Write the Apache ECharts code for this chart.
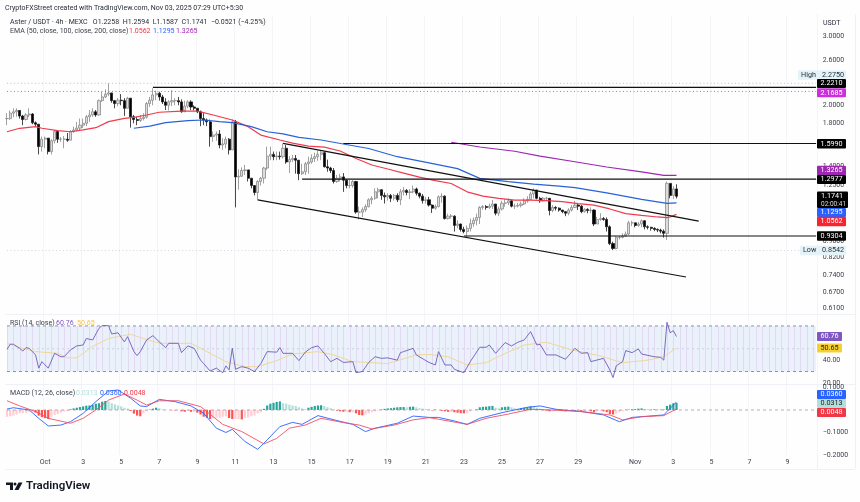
<!DOCTYPE html>
<html><head><meta charset="utf-8">
<script src="https://cdn.jsdelivr.net/npm/echarts@6/dist/echarts.min.js"></script>
<style>html,body{margin:0;padding:0;background:#fff}#c{width:860px;height:502px}</style></head>
<body><div id="c"></div>
<script>
// ---- values ----
const firstOpen = 1.85;
const closes = [1.85,1.91,1.925,1.94,1.878,1.84,1.89,1.90,1.805,1.79,1.57,1.64,1.65,1.525,1.625,1.715,1.64,1.64,1.64,1.63,
1.715,1.73,1.75,1.78,1.80,1.87,1.89,1.925,1.89,2.055,2.10,2.135,2.15,2.055,2.02,2.06,2.055,1.965,2.085,1.87,
1.84,1.83,1.85,1.865,2.02,2.06,2.125,2.145,2.10,2.04,2.00,2.04,2.055,2.055,2.04,1.925,1.99,2.04,1.98,1.965,
1.925,1.85,1.835,1.815,1.665,1.68,1.69,1.585,1.595,1.64,1.54,1.815,1.315,1.32,1.365,1.37,1.305,1.25,1.20,1.28,
1.305,1.385,1.485,1.50,1.48,1.485,1.48,1.555,1.435,1.455,1.465,1.45,1.34,1.355,1.42,1.435,1.465,1.48,1.50,1.515,
1.395,1.385,1.365,1.28,1.305,1.315,1.29,1.25,1.25,1.28,1.07,1.07,1.085,1.105,1.15,1.16,1.205,1.22,1.18,1.17,
1.18,1.16,1.18,1.15,1.205,1.215,1.20,1.205,1.225,1.195,1.175,1.145,1.15,1.115,1.095,1.105,1.17,1.175,1.03,1.045,
1.045,0.99,0.998,0.967,0.955,0.973,1.00,1.02,1.037,1.10,1.105,1.10,1.108,1.122,1.063,1.09,1.127,1.13,1.143,1.108,
1.108,1.113,1.122,1.143,1.153,1.19,1.218,1.16,1.143,1.16,1.16,1.08,1.10,1.095,1.083,1.073,1.063,1.083,1.10,1.115,
1.108,1.073,1.087,1.08,1.083,0.998,1.025,1.03,1.025,0.982,0.89,0.865,0.923,0.923,0.93,0.941,1.005,1.005,0.99,0.998,
1.017,0.982,0.979,0.973,0.967,0.963,0.957,0.945,1.266,1.18,1.2258,1.1741];
const highs = [1.91,1.94,1.965,1.965,1.945,1.89,1.91,1.965,1.91,1.82,1.79,1.665,1.665,1.64,1.64,1.73,1.73,1.66,1.67,1.70,
1.73,1.765,1.815,1.85,1.85,1.89,1.945,1.965,1.945,2.07,2.165,2.195,2.275,2.135,2.06,2.085,2.135,2.085,2.10,2.085,
1.89,1.87,1.89,1.91,2.04,2.10,2.21,2.18,2.165,2.125,2.085,2.06,2.185,2.085,2.10,2.07,2.055,2.06,2.06,2.00,
1.965,1.94,1.91,1.85,1.84,1.715,1.715,1.73,1.65,1.665,1.65,1.84,1.835,1.375,1.39,1.41,1.37,1.305,1.25,1.29,
1.315,1.395,1.57,1.57,1.525,1.525,1.525,1.60,1.585,1.485,1.495,1.495,1.42,1.42,1.435,1.48,1.50,1.515,1.53,1.54,
1.525,1.455,1.395,1.385,1.33,1.34,1.345,1.295,1.29,1.29,1.285,1.105,1.10,1.12,1.16,1.175,1.23,1.235,1.205,1.20,
1.195,1.19,1.19,1.195,1.225,1.24,1.225,1.225,1.25,1.235,1.20,1.19,1.17,1.17,1.12,1.12,1.18,1.195,1.18,1.06,
1.058,1.05,1.02,1.00,0.982,0.99,1.03,1.037,1.06,1.108,1.115,1.115,1.125,1.148,1.115,1.105,1.143,1.155,1.16,1.148,
1.125,1.13,1.137,1.16,1.175,1.205,1.23,1.21,1.17,1.17,1.17,1.16,1.115,1.108,1.10,1.083,1.077,1.095,1.115,1.143,
1.122,1.115,1.095,1.095,1.10,1.087,1.04,1.063,1.04,1.037,0.99,0.90,0.93,0.93,0.945,0.955,1.017,1.017,1.005,1.01,
1.025,1.02,0.99,0.982,0.979,0.973,0.971,0.967,1.279,1.266,1.246,1.2594];
const lows = [1.78,1.835,1.865,1.87,1.85,1.78,1.83,1.865,1.79,1.77,1.50,1.525,1.555,1.50,1.50,1.60,1.605,1.615,1.555,1.615,
1.63,1.70,1.715,1.73,1.75,1.77,1.815,1.87,1.87,1.88,2.04,2.085,2.11,2.03,1.965,1.99,2.00,1.88,1.965,1.755,
1.80,1.78,1.815,1.83,1.85,1.98,2.00,2.06,2.055,2.015,1.945,1.94,1.99,2.00,2.00,1.915,1.945,1.965,1.945,1.94,
1.91,1.77,1.78,1.77,1.57,1.615,1.625,1.555,1.54,1.555,1.50,1.54,1.10,1.22,1.315,1.33,1.28,1.23,1.18,1.15,
1.25,1.265,1.37,1.45,1.45,1.45,1.455,1.465,1.42,1.345,1.435,1.34,1.29,1.33,1.33,1.34,1.42,1.435,1.445,1.45,
1.39,1.355,1.345,1.265,1.27,1.28,1.205,1.23,1.23,1.235,1.06,1.025,1.04,1.07,1.10,1.12,1.15,1.16,1.15,1.125,
1.145,1.135,1.145,1.135,1.115,1.18,1.18,1.155,1.195,1.18,1.16,1.125,1.125,1.105,1.065,1.085,1.10,1.13,1.025,1.025,
1.03,0.955,0.973,0.955,0.945,0.926,0.955,0.982,0.99,0.998,1.085,1.085,1.09,1.09,1.05,1.045,1.08,1.105,1.115,1.10,
1.09,1.10,1.10,1.115,1.13,1.148,1.16,1.153,1.13,1.137,1.148,1.05,1.07,1.08,1.073,1.063,1.045,1.05,1.073,1.095,
1.083,1.063,1.067,1.063,1.063,0.986,1.01,1.017,1.017,0.955,0.882,0.857,0.86,0.912,0.917,0.926,0.935,0.986,0.979,0.982,
0.979,0.967,0.967,0.96,0.957,0.952,0.945,0.922,0.909,1.16,1.155,1.1587];

const ema50 = [[0,1.713],[4,1.748],[9,1.765],[11,1.748],[16,1.724],[20,1.713],[24,1.731],[28,1.754],[32,1.817],[37,1.853],[40,1.864],[44,1.889],[48,1.92],[55,1.933],[60,1.933],[65,1.889],[71,1.835],[76,1.765],[80,1.68],[86,1.632],[90,1.603],[95,1.575],[100,1.566],[105,1.53],[110,1.464],[115,1.41],[120,1.377],[125,1.345],[130,1.313],[135,1.287],[140,1.265],[145,1.205],[150,1.175],[155,1.16],[160,1.148],[165,1.148],[170,1.145],[175,1.138],[180,1.125],[185,1.115],[190,1.09],[195,1.061],[200,1.05],[205,1.04],[208,1.036],[209,1.04],[210,1.048],[211,1.0562]];
const ema100 = [[40,1.748],[45,1.771],[50,1.807],[57,1.828],[62,1.835],[67,1.817],[71,1.807],[77,1.765],[82,1.713],[87,1.691],[92,1.658],[99,1.632],[106,1.594],[114,1.553],[123,1.48],[133,1.428],[142,1.38],[149,1.304],[158,1.279],[166,1.261],[174,1.246],[179,1.235],[189,1.197],[200,1.153],[208,1.126],[211,1.1295]];
const ema200 = [[140,1.611],[149,1.567],[160,1.528],[168,1.485],[179,1.437],[189,1.393],[200,1.354],[207,1.327],[211,1.3265]];

const rsiValues = [[0,49.5],[1,54],[2,54],[4,50.4],[5,48],[6,51],[7,50.4],[9,44.6],[10,33],[11,38.7],[13,33],[15,46],[17,43],[18,43],[20,49],[22,52.5],[24,53.3],[25,59],[27,57.7],[29,68],[30,70.3],[32,70.3],[33,63],[35,64],[37,56],[38,60.6],[40,47.5],[41,44],[42,47.5],[44,57.7],[46,61.5],[48,56],[50,51],[51,54.8],[54,54.8],[55,46.6],[57,52.5],[59,50.4],[61,40],[62,37],[64,30.5],[66,33],[68,29],[69,35],[70,31.5],[71,50.4],[72,32],[74,34.3],[76,33],[78,30],[80,37],[82,47.5],[85,47],[86,51],[87,46],[90,46],[92,39.6],[94,47],[96,51],[98,52.5],[100,46],[102,38.7],[104,41.6],[106,38],[109,38.7],[110,29],[112,30],[114,38],[116,43],[118,41.6],[120,42],[123,40],[124,46.6],[125,47.5],[128,50.4],[129,44.6],[133,38],[135,35.8],[136,47.5],[138,35.8],[140,35.8],[141,32],[144,29],[146,38.7],[149,51.3],[151,51.3],[152,53.3],[154,46],[157,55.4],[159,52.5],[161,55.7],[163,57.7],[165,65],[167,53.3],[168,53.9],[170,44.6],[173,44.6],[176,40.8],[179,50.4],[181,46],[183,46.6],[184,38.7],[188,41.6],[190,31.4],[191,24.7],[192,35],[194,38.7],[195,48.4],[197,46.6],[199,49.8],[200,45.4],[204,43],[206,42.5],[207,40],[208,73.2],[209,64],[210,65.9],[211,60.76]];
const rsiMa = [[0,54.8],[4,51],[9,47.5],[16,46],[19,42],[22,42],[27,52],[32,59],[39,62.7],[43,59],[48,54.8],[58,54.8],[63,47.5],[69,38.7],[75,34.3],[79,34.3],[85,39.6],[90,45.4],[98,47.5],[103,44.6],[109,38.7],[114,38],[120,37],[129,44.6],[133,45],[139,43],[145,35.8],[151,37.8],[156,44.6],[163,53.3],[170,55.7],[178,49],[187,43.7],[194,37.8],[202,40],[207,43],[211,50.65]];

const macdLine = [[0,.004],[2,.01],[7,0],[10,-.037],[13,-.071],[17,-.067],[20,-.052],[24,-.015],[28,.037],[32,.084],[35,.089],[39,.052],[42,.018],[44,.015],[48,.047],[53,.037],[58,.018],[62,-.015],[66,-.081],[69,-.10],[71,-.086],[75,-.14],[79,-.175],[82,-.133],[86,-.074],[90,-.055],[93,-.064],[98,-.025],[104,-.047],[109,-.064],[113,-.096],[116,-.081],[123,-.059],[128,-.027],[133,-.033],[136,-.033],[141,-.049],[145,-.064],[149,-.037],[156,-.012],[164,.012],[168,.018],[173,.003],[181,-.007],[188,-.022],[193,-.052],[197,-.033],[207,-.022],[208,-.007],[211,.036]];
const macdSignal = [[0,.041],[4,.018],[9,-.007],[13,-.037],[20,-.059],[24,-.037],[28,0],[32,.044],[37,.071],[41,.044],[44,.022],[48,.041],[54,.041],[61,.015],[65,-.03],[68,-.064],[74,-.096],[81,-.151],[85,-.126],[89,-.081],[94,-.067],[99,-.037],[106,-.056],[111,-.067],[115,-.084],[122,-.067],[128,-.044],[133,-.034],[136,-.041],[142,-.056],[145,-.064],[151,-.037],[158,-.018],[165,.003],[172,0],[181,-.007],[190,-.022],[194,-.044],[200,-.03],[207,-.025],[211,.0048]];
const macdHist = [-.03,-.028,-.025,-.02,-.014,-.014,-.012,-.008,-.006,-.012,-.025,-.032,-.036,-.04,-.03,-.022,-.018,-.012,-.007,-.004,
.003,.007,.01,.013,.016,.019,.02,.023,.028,.03,.037,.04,.038,.03,.025,.02,.016,.01,.006,-.004,
-.016,-.025,-.028,-.015,-.006,.002,.006,.01,.008,.003,.001,0,-.001,-.002,-.001,-.006,-.008,-.005,-.008,-.008,
-.012,-.02,-.03,-.035,-.04,-.036,-.034,-.034,-.03,-.028,-.036,-.04,-.04,-.04,-.042,-.035,-.033,-.028,-.025,-.015,
-.01,.005,.02,.028,.032,.036,.038,.03,.028,.024,.02,.018,.012,.007,.004,.01,.014,.018,.02,.021,
.018,.012,.008,.003,-.003,-.006,-.008,-.008,-.01,-.01,-.015,-.022,-.024,-.02,-.015,-.01,-.006,-.002,.002,.005,
.007,.008,.01,.012,.013,.013,.012,.014,.015,.012,.008,.006,.004,.002,-.002,.002,0,-.004,-.006,-.008,
-.008,-.01,-.012,-.014,-.015,-.012,-.006,-.002,.003,.012,.014,.015,.017,.018,.01,.008,.012,.014,.015,.012,
.008,.006,.008,.01,.012,.016,.014,.01,.006,.003,-.003,-.006,-.006,-.005,-.004,-.005,-.006,-.004,-.003,-.004,
-.004,-.006,-.005,-.003,-.006,-.01,-.006,-.004,-.006,-.01,-.018,-.02,-.016,-.01,-.005,.001,.002,.003,.004,.006,
.007,.005,.004,.003,.003,.002,.002,.002,.018,.024,.03,.0313];

const levelHigh = 2.2750, levelLow = 0.8542, levelClose = 2.1685;
const res2221 = [[46,2.2210],[255,2.2210]];
const res1599 = [[106,1.5990],[255,1.5990]];
const res1297 = [[93,1.2977],[255,1.2977]];
const sup0930 = [[144,0.9304],[255,0.9304]];
const channelUpper = [[87,1.60],[218,1.0155]];
const channelLower = [[79,1.15],[214,0.7317]];

const xTickLabels = ['Oct','3','5','7','9','11','13','15','17','19','21','23','25','27','29','Nov','3','5','7','9'];
const xTickIndex = [12,24,36,48,60,72,84,96,108,120,132,144,156,168,180,198,210,222,234,246];
const priceTicks = [3,2.6,2,1.8,1.4,1.25,0.9,0.82,0.74,0.67,0.61];
const rsiTicks = [40,20];
const macdTicks = [0.1,-0.1,-0.2];
const slotCount = 256;

// ---- build ----
const cats = Array.from({length:slotCount},(_,i)=>{const k=xTickIndex.indexOf(i);return k>=0?xTickLabels[k]:''+i;});
const candleData = closes.map((c,i)=>[i?closes[i-1]:firstOpen,c,lows[i],highs[i]]);
const FONT = 'Roboto, "Liberation Sans", sans-serif';
const TXT = '#3a3e4a';
const L = 5.4, W = 812.3;
const isTick = i => xTickIndex.indexOf(i)>=0;
function xAxis(g,show){return {type:'category',gridIndex:g,data:cats,boundaryGap:true,
  axisLine:{show:false},axisTick:{show:false},
  splitLine:{show:true,interval:isTick,lineStyle:{color:'#f3f5f8',width:1}},
  axisLabel:show?{show:true,interval:isTick,hideOverlap:false,color:TXT,fontSize:7,fontFamily:FONT,margin:4,
     formatter:v=>v}:{show:false}};}
const line=(x,y,data,color,w,extra)=>Object.assign({type:'line',xAxisIndex:x,yAxisIndex:y,data,symbol:'none',smooth:false,silent:true,
  lineStyle:{color,width:w},animation:false},extra||{});
const hLevel=(v,color)=>({type:'line',xAxisIndex:0,yAxisIndex:0,data:[[0,v],[255,v]],symbol:'none',silent:true,animation:false,
  lineStyle:{color,width:0.8,type:[1,2.5]}});
const stripeIdx=[];for(let i=0;i<slotCount;i+=2)stripeIdx.push([i]);

function tag(y,h,x,w,bg,fg,text,opts){
  opts=opts||{};
  return {type:'group',z:100,children:[
   {type:'rect',shape:{x,y:y-h/2,width:w,height:h,r:1},style:{fill:bg},z:100},
   {type:'text',x:opts.tx||x+w/2,y:y,style:{text,fill:fg,font:'7.2px '+FONT,textAlign:opts.tx?'left':'center',textVerticalAlign:'middle'},z:101}
  ]};
}
const T=(x,y,text,fill,extra)=>({type:'text',x,y,z:100,style:Object.assign({text,fill,font:'7px '+FONT,textVerticalAlign:'middle'},extra||{})});
const seg=(y,x1,x2,c)=>({type:'line',shape:{x1,y1:y,x2,y2:y},style:{stroke:c||'#eef2f6',lineWidth:1},z:0});
const vseg=(x,y1,y2,c)=>({type:'line',shape:{x1:x,y1,x2:x,y2},style:{stroke:c||'#eef2f6',lineWidth:1},z:0});

const graphics=[
 seg(314.5,5,855),seg(384.5,5,855),seg(469.5,5,855),vseg(855.5,14,469),vseg(817.5,14,469),
 T(5,8.5,'CryptoFXStreet created with TradingView.com, Nov 03, 2025 07:29 UTC+5:30','#2a2e39'),
 T(10,22.5,'Aster / USDT · 4h · MEXC   O1.2258  H1.2594  L1.1587  C1.1741  −0.0521 (−4.25%)','#2a2e39'),
 T(10,31.5,'EMA (50, close, 100, close, 200, close)',TXT),
 T(129,31.5,'1.0562','#f23645'),T(153,31.5,'1.1295','#2962ff'),T(176,31.5,'1.3265','#9c27b0'),
 T(823,23,'USDT','#2a2e39',{font:'7px '+FONT}),
 T(10,323.5,'RSI (14, close)',TXT),T(56,323.5,'60.76','#7e57c2'),T(77,323.5,'50.65','#f5c34d'),
 T(10,393,'MACD (12, 26, close)',TXT),T(76,393,'0.0313','#b2dfdb'),T(100,393,'0.0360','#2962ff'),T(124,393,'0.0048','#f23645'),
 // right-hand price tags
 tag(75,9.5,798,48,'#e4f3f8','#2a2e39','High'  ,{tx:801}),T(822,75,'2.2750','#2a2e39',{font:'7.2px '+FONT}),
 tag(83.5,9,817,29,'#000','#fff','2.2210'),
 tag(92.7,9,817,29,'#cc2fdc','#fff','2.1685'),
 tag(143.7,9.5,817,29,'#000','#fff','1.5990'),
 tag(170.5,9.5,817,29,'#9c27b0','#fff','1.3265'),
 tag(179.5,9,817,29,'#000','#fff','1.2977'),
 {type:'rect',shape:{x:817,y:191.5,width:31,height:16.5,r:1},style:{fill:'#000'},z:100},
 T(821,196.3,'1.1741','#fff',{font:'7.2px '+FONT}),T(821,204,'02:00:41','#ddd',{font:'6.5px '+FONT}),
 tag(212.5,9,817,29,'#2962ff','#fff','1.1295'),
 tag(221.5,9.5,817,29,'#f7232f','#fff','1.0562'),
 tag(236,9.5,817,29,'#000','#fff','0.9304'),
 tag(250.5,9.5,800,46,'#e4f3f8','#2a2e39','Low',{tx:803}),T(822,250.5,'0.8542','#2a2e39',{font:'7.2px '+FONT}),
 tag(336.5,9,817,25,'#7e57c2','#fff','60.76'),
 tag(348,9,817,25,'#f5d033','#1e1e1e','50.65'),
 tag(394.5,9,817,29,'#2962ff','#fff','0.0360'),
 tag(403.5,9,817,29,'#b2dfdb','#1e1e1e','0.0313'),
 tag(412.5,9,817,29,'#f23645','#fff','0.0048'),
 // TradingView mark
 {type:'polygon',shape:{points:[[6,482.5],[13,482.5],[13,490],[10,490],[10,485],[6,485]]},style:{fill:'#131722'},z:100},
 {type:'circle',shape:{cx:15,cy:484,r:1.5},style:{fill:'#131722'},z:100},
 {type:'polygon',shape:{points:[[18.5,482.5],[22.5,482.5],[18.5,490],[14.5,490]]},style:{fill:'#131722'},z:100},
 {type:'text',x:26,y:486,z:100,style:{text:'TradingView',fill:'#131722',font:'600 11.5px '+FONT,textVerticalAlign:'middle'}}
];

const yLab=(fmt)=>({show:true,color:TXT,fontSize:7,fontFamily:FONT,margin:5,formatter:fmt,showMinLabel:true,showMaxLabel:true,hideOverlap:false});
const option={
 animation:false,backgroundColor:'#fefefe',
 grid:[{left:L,width:W,top:16,height:298},{left:L,width:W,top:315,height:69},{left:L,width:W,top:385,height:70}],
 xAxis:[xAxis(0,false),xAxis(1,false),xAxis(2,true)],
 yAxis:[
  {type:'log',logBase:10,gridIndex:0,position:'right',min:0.5893,max:3.373,axisLine:{show:false},axisTick:{show:false},
   splitLine:{show:false},minorSplitLine:{show:false},
   axisLabel:Object.assign(yLab(v=>(+v).toFixed(4)),{customValues:priceTicks})},
  {type:'value',gridIndex:1,position:'right',min:19.1,max:79.6,axisLine:{show:false},axisTick:{show:false},splitLine:{show:false},
   axisLabel:Object.assign(yLab(v=>(+v).toFixed(2)),{customValues:rsiTicks})},
  {type:'value',gridIndex:2,position:'right',min:-0.2,max:0.111,axisLine:{show:false},axisTick:{show:false},splitLine:{show:false},
   axisLabel:Object.assign(yLab(v=>(v<0?'−':'')+Math.abs(v).toFixed(4)),{customValues:macdTicks})}
 ],
 graphic:graphics,
 series:[
  hLevel(levelHigh,'#aab1ba'),hLevel(levelClose,'#cc2fdc'),hLevel(levelLow,'#c4c9d0'),
  {type:'candlestick',xAxisIndex:0,yAxisIndex:0,data:candleData,barWidth:2.6,silent:true,animation:false,
   itemStyle:{color:'#dcdcdc',color0:'#000000',borderColor:'#8a8a8a',borderColor0:'#1a1a1a',borderWidth:0.8}},
  line(0,0,ema50,'#ef3b4d',1.2),line(0,0,ema100,'#2962d8',1.2),line(0,0,ema200,'#9c27b0',1.1),
  line(0,0,res2221,'#111',1.2),line(0,0,res1599,'#111',1.2),line(0,0,res1297,'#111',1.2),line(0,0,sup0930,'#111',1.2),
  line(0,0,channelUpper,'#111',1.2),line(0,0,channelLower,'#111',1.2),
  // RSI
  {type:'line',xAxisIndex:1,yAxisIndex:1,data:[[0,50],[255,50]],symbol:'none',silent:true,animation:false,
   lineStyle:{color:'#c9cfe0',width:1,type:[2,3]},
   markArea:{silent:true,itemStyle:{color:'#eaf1fb'},data:[[{coord:[0,70]},{coord:[255,30]}]]}},
  {type:'custom',xAxisIndex:1,yAxisIndex:1,data:stripeIdx,silent:true,animation:false,clip:true,
   encode:{x:0},
   renderItem:(p,api)=>{const a=api.coord([api.value(0),70]),b=api.coord([api.value(0),30]);
     return {type:'rect',shape:{x:Math.round(a[0]),y:a[1],width:1,height:b[1]-a[1]},style:{fill:'#e2daf3'}};}},
  line(1,1,[[0,70],[255,70]],'#787b86',0.8,{lineStyle:{color:'#787b86',width:0.8,type:[3,3]}}),
  line(1,1,[[0,30],[255,30]],'#787b86',0.8,{lineStyle:{color:'#787b86',width:0.8,type:[3,3]}}),
  line(1,1,rsiMa,'#f0d79a',1),line(1,1,rsiValues,'#6f5bb8',0.9),
  // MACD
  line(2,2,[[0,0],[255,0]],'#9aa0aa',0.8,{lineStyle:{color:'#9aa0aa',width:0.8,type:[3,3]}}),
  {type:'bar',xAxisIndex:2,yAxisIndex:2,barWidth:2.2,silent:true,animation:false,
   data:macdHist,
   itemStyle:{color:p=>{const v=p.value,prev=p.dataIndex?macdHist[p.dataIndex-1]:v;
     return v>=0?(v>=prev?'#26a69a':'#b2dfdb'):(v<prev?'#ff5252':'#ffcdd2');}}},
  line(2,2,macdLine,'#2962ff',0.9),line(2,2,macdSignal,'#ef4f63',0.9)
 ]
};
const chart=echarts.init(document.getElementById('c'),null,{renderer:'canvas'});
chart.setOption(option);
</script></body></html>
